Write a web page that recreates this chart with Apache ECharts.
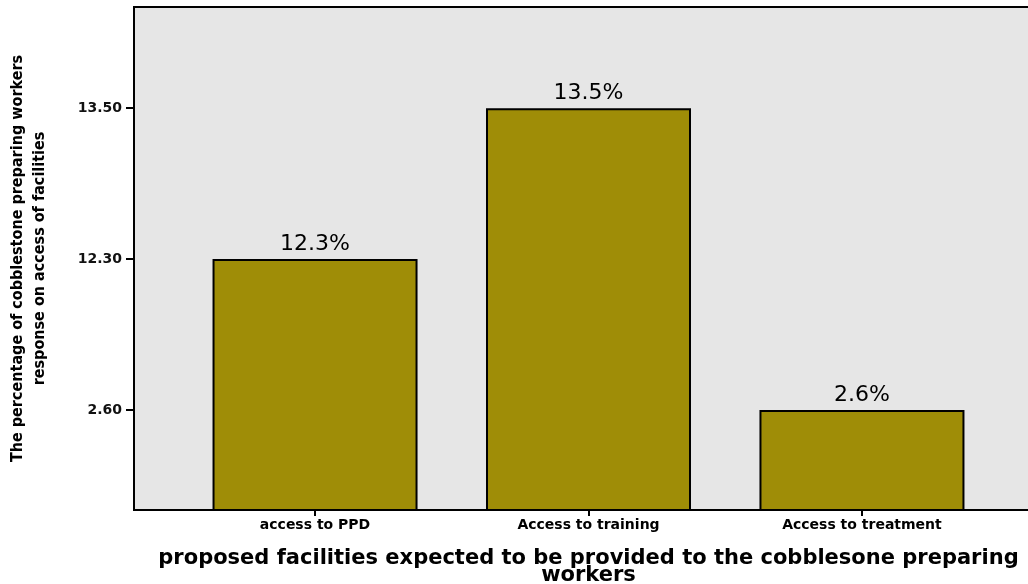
<!DOCTYPE html>
<html>
<head>
<meta charset="utf-8">
<script src="https://cdn.jsdelivr.net/npm/echarts@6/dist/echarts.min.js"></script>
<style>html,body{margin:0;padding:0;background:#fff}#c{width:1028px;height:584px}</style>
</head>
<body>
<div id="c"></div>
<script>
const categories = ['access to PPD', 'Access to training', 'Access to treatment'];
const values = [12.3, 13.5, 2.6];
const yTickLabels = ['2.60', '12.30', '13.50'];
const yTickValues = [2.6, 12.3, 13.5];

// SPSS-style ordinal y axis: each distinct value gets its own equally spaced tick
const rank = v => yTickValues.indexOf(v) + 1;
const seriesData = values.map((v, i) => ({ value: [i, rank(v)], pct: v }));

const chart = echarts.init(document.getElementById('c'), null, { renderer: 'canvas' });
chart.setOption({
  animation: false,
  backgroundColor: '#ffffff',
  grid: {
    left: 134, right: -15, top: 7, bottom: 74,
    containLabel: false, outerBoundsMode: 'none',
    show: true, backgroundColor: '#e6e6e6', borderColor: '#000', borderWidth: 2
  },
  xAxis: {
    type: 'value', min: -0.662, max: 2.662,
    splitLine: { show: false },
    axisLine: { show: true, onZero: false, lineStyle: { color: '#000', width: 2 } },
    axisTick: { show: true, customValues: [0, 1, 2], length: 6, lineStyle: { color: '#000', width: 2 } },
    axisLabel: {
      customValues: [0, 1, 2], margin: 8,
      formatter: v => categories[Math.round(v)],
      fontFamily: 'DejaVu Sans', fontWeight: 'bold', fontSize: 14, color: '#000'
    },
    name: 'proposed facilities expected to be provided to the cobblesone preparing\nworkers',
    nameLocation: 'middle', nameGap: 40,
    nameTextStyle: { fontFamily: 'DejaVu Sans', fontWeight: 'bold', fontSize: 21, color: '#000', lineHeight: 17 }
  },
  yAxis: {
    type: 'value', min: 0.338, max: 3.67,
    splitLine: { show: false },
    axisLine: { show: true, onZero: false, lineStyle: { color: '#000', width: 2 } },
    axisTick: { show: true, customValues: [1, 2, 3], length: 8, lineStyle: { color: '#000', width: 2 } },
    axisLabel: {
      customValues: [1, 2, 3], margin: 12,
      formatter: v => yTickLabels[Math.round(v) - 1],
      fontFamily: 'DejaVu Sans', fontWeight: 'bold', fontSize: 14, color: '#111'
    },
    name: 'The percentage of cobblestone preparing workers\nresponse on access of facilities',
    nameLocation: 'middle', nameGap: 83, nameRotate: 90,
    nameTextStyle: { fontFamily: 'DejaVu Sans Condensed', fontWeight: 'bold', fontSize: 16, color: '#000', lineHeight: 22 }
  },
  series: [{
    type: 'bar',
    data: seriesData,
    barWidth: 205,
    itemStyle: { color: '#9f8d07', borderColor: '#000', borderWidth: 2 },
    label: {
      show: true, position: 'top', distance: 4,
      formatter: p => p.data.pct.toFixed(1) + '%',
      fontFamily: 'DejaVu Sans', fontSize: 22, color: '#000'
    }
  }]
});
</script>
</body>
</html>
